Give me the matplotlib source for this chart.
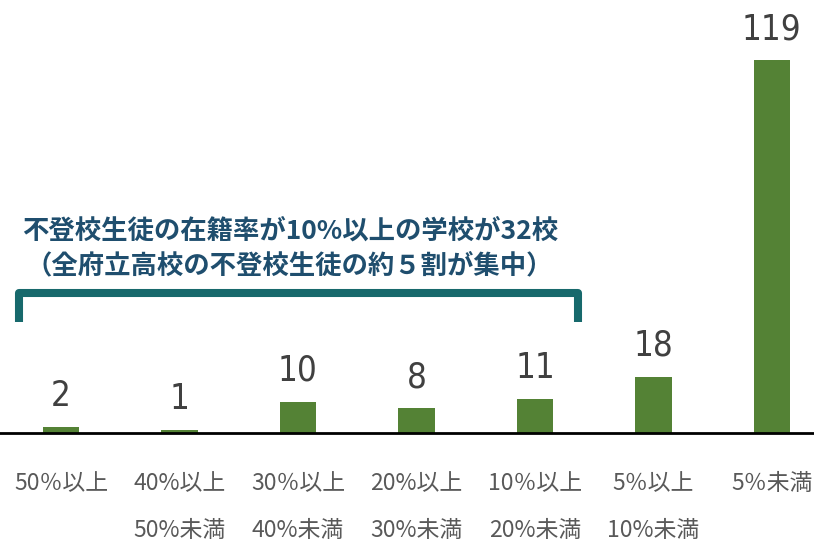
import matplotlib
matplotlib.use('Agg')
import matplotlib.pyplot as plt
from matplotlib import font_manager

# data
categories = ['50％以上', '40%以上\n50%未満', '30％以上\n40%未満', '20%以上\n30%未満',
              '10％以上\n20%未満', '5％以上\n10%未満', '5％未満']
counts = [2, 1, 10, 8, 11, 18, 119]
note_lines = ['不登校生徒の在籍率が10%以上の学校が32校',
              '（全府立高校の不登校生徒の約５割が集中）']

bar_color = '#548235'
jp_font = ['Noto Sans CJK JP', 'DejaVu Sans']

# look for a narrow face for the numbers, the reference uses a condensed one
num_prop = None
for f in font_manager.fontManager.ttflist:
    if f.stretch in ('condensed', 'semi-condensed', 'extra-condensed') or \
       'Narrow' in f.name or 'Condensed' in f.name:
        if f.weight in (400, 'normal', 'regular') and f.style == 'normal':
            num_prop = font_manager.FontProperties(fname=f.fname)
            break
if num_prop is None:
    num_prop = font_manager.FontProperties(family='Noto Sans CJK JP')

fig = plt.figure(figsize=(8.14, 5.46), dpi=100)
ax = fig.add_axes([0, 113 / 546, 1, 433 / 546])

x = list(range(len(categories)))
ax.bar(x, counts, width=0.31, color=bar_color, zorder=2)

for xi, v in zip(x, counts):
    t = ax.annotate(str(v), (xi, v), xytext=(0, 10), textcoords='offset points',
                    ha='center', va='bottom', color='#404040',
                    fontproperties=num_prop)
    t.set_fontsize(25)

ax.set_xlim(-0.515, 6.355)
ax.set_ylim(0, 138.2)

for s in ['top', 'right', 'left']:
    ax.spines[s].set_visible(False)
ax.spines['bottom'].set_linewidth(2)
ax.spines['bottom'].set_color('black')
ax.set_yticks([])
ax.set_xticks(x)
ax.set_xticklabels(categories, family=jp_font, fontsize=16.5, color='#595959',
                   linespacing=2.35, va='top')
ax.tick_params(axis='x', length=0, pad=28)

# bracket over the first five groups
bx0, bx1 = -0.355, 4.363
by_top, by_bot = 44.7, 35.4
ax.plot([bx0, bx0, bx1, bx1], [by_bot, by_top, by_top, by_bot],
        color='#17696C', lw=5.8, solid_joinstyle='round', solid_capstyle='butt',
        zorder=3, clip_on=False)

ax.text(1.93, 64.4, note_lines[0], ha='center', va='center', fontsize=19,
        fontweight='bold', color='#1F4E6E', family=jp_font)
ax.text(1.93, 53.5, note_lines[1], ha='center', va='center', fontsize=19,
        fontweight='bold', color='#1F4E6E', family=jp_font)

fig.savefig('out.png', dpi=100)
